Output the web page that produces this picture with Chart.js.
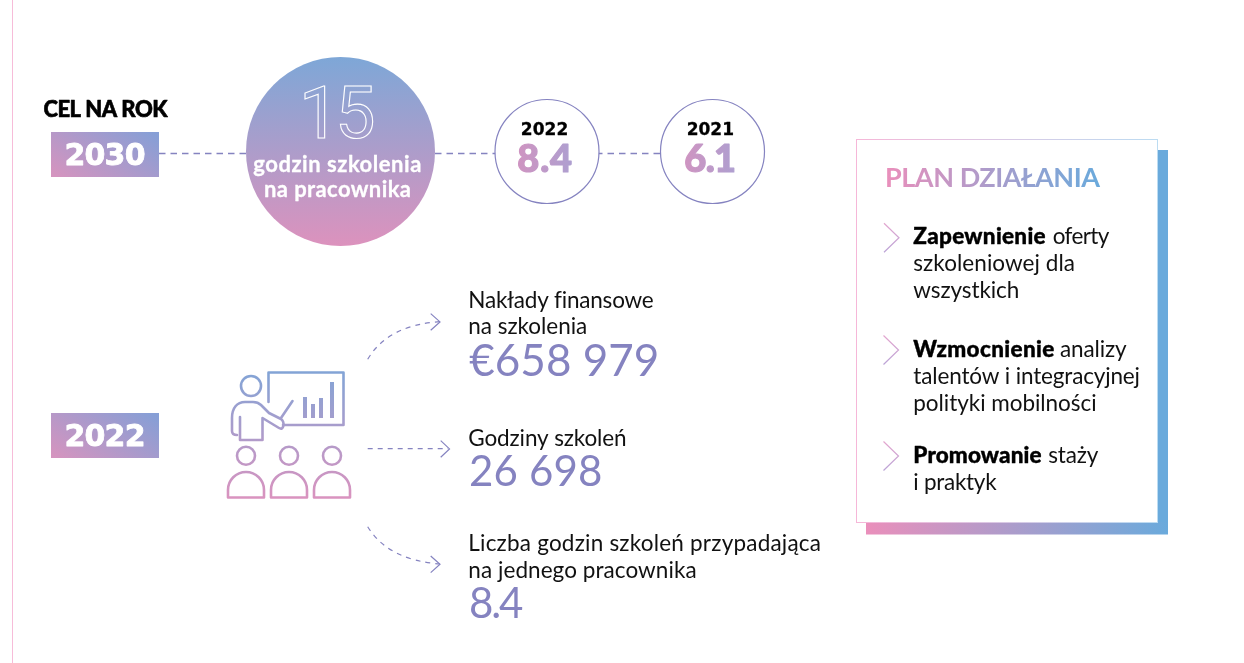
<!DOCTYPE html>
<html lang="pl">
<head>
<meta charset="utf-8">
<title>Szkolenia</title>
<script src="https://cdn.jsdelivr.net/npm/chart.js@4/dist/chart.umd.min.js"></script>
<style>
  html, body { margin: 0; padding: 0; background: #fff; }
  canvas { display: block; }
</style>
</head>
<body>
<canvas id="wykres" width="1244" height="663"></canvas>
<script>
// dane
const targetTitle = 'CEL NA ROK';
const timelineYears = ['2030', '2022', '2021'];
const timelineHours = [15, 8.4, 6.1];
const targetUnit = ['godzin szkolenia', 'na pracownika'];
const reportYear = '2022';
const metricLabels = [
  ['Nakłady finansowe', 'na szkolenia'],
  ['Godziny szkoleń'],
  ['Liczba godzin szkoleń przypadająca', 'na jednego pracownika']
];
const metricValues = [658979, 26698, 8.4];
const planTitle = 'PLAN DZIAŁANIA';
const planBold = ['Zapewnienie', 'Wzmocnienie', 'Promowanie'];
const planRest = [
  ['oferty', 'szkoleniowej dla', 'wszystkich'],
  ['analizy', 'talentów i integracyjnej', 'polityki mobilności'],
  ['staży', 'i praktyk']
];

// uklad
const circleX = [340.5, 547, 712.5];
const circleY = 151.5;
const circleR = [94.5, 52, 52];
const lineY = 153.5;
const violet = '#8583c0';
const bodyFont = '400 22.5px Lato';
const wideFont = 'DejaVu Sans';

function money(v) {
  return '€' + String(v).replace(/\B(?=(\d{3})+$)/g, ' ');
}
function spaced(v) {
  return String(v).replace(/\B(?=(\d{3})+$)/g, ' ');
}

const ctx = document.getElementById('wykres').getContext('2d');

function grad(x0, y0, x1, y1, c0, c1) {
  const g = ctx.createLinearGradient(x0, y0, x1, y1);
  g.addColorStop(0, c0);
  g.addColorStop(1, c1);
  return g;
}

// tekst dopasowany do szerokosci z oryginalu, heavy pogrubia obrysem
function label(str, x, y, w, font, color, heavy) {
  ctx.font = font;
  ctx.letterSpacing = '0px';
  ctx.textAlign = 'left';
  ctx.textBaseline = 'alphabetic';
  const m = ctx.measureText(str).width;
  if (w && str.length > 1) ctx.letterSpacing = ((w - m) / (str.length - 1)).toFixed(3) + 'px';
  ctx.fillStyle = color;
  ctx.fillText(str, x, y);
  if (heavy) {
    ctx.strokeStyle = color;
    ctx.lineWidth = heavy;
    ctx.lineJoin = 'round';
    ctx.setLineDash([]);
    ctx.strokeText(str, x, y);
  }
  ctx.letterSpacing = '0px';
}

function chevron(x0, y0, dx, dy, color, width) {
  ctx.beginPath();
  ctx.moveTo(x0, y0 - dy);
  ctx.lineTo(x0 + dx, y0);
  ctx.lineTo(x0, y0 + dy);
  ctx.strokeStyle = color;
  ctx.lineWidth = width;
  ctx.lineJoin = 'miter';
  ctx.setLineDash([]);
  ctx.stroke();
}

function yearBox(year, top, textX, textY) {
  ctx.fillStyle = grad(80, top + 60, 130, top - 15, '#d494bf', '#869fd6');
  ctx.fillRect(51, top, 108, 45);
  label(year, textX, textY, 81, '700 30px "' + wideFont + '"', '#fff', 0.8);
}

function drawIcon() {
  const g = grad(0, 371, 0, 499, '#82a4d6', '#da93bf');
  ctx.strokeStyle = g;
  ctx.fillStyle = g;
  ctx.lineWidth = 2.6;
  ctx.lineJoin = 'round';
  ctx.lineCap = 'round';
  ctx.setLineDash([]);

  // tablica
  ctx.beginPath();
  ctx.moveTo(268.5, 402);
  ctx.lineTo(268.5, 372.5);
  ctx.lineTo(343.5, 372.5);
  ctx.lineTo(343.5, 425);
  ctx.lineTo(283, 425);
  ctx.stroke();
  ctx.fillRect(303, 397, 4, 21);
  ctx.fillRect(311, 404, 4, 14);
  ctx.fillRect(319, 398, 4, 20);
  ctx.fillRect(330, 382, 4, 36);

  // prowadzacy
  ctx.beginPath();
  ctx.arc(251, 386, 10, 0, Math.PI * 2);
  ctx.stroke();
  ctx.beginPath();
  ctx.moveTo(240, 417);
  ctx.lineTo(240, 440);
  ctx.lineTo(262.5, 440);
  ctx.lineTo(262.5, 418);
  ctx.lineTo(279, 428);
  ctx.bezierCurveTo(284, 431, 285, 422, 281, 419);
  ctx.lineTo(269, 413);
  ctx.lineTo(261, 405);
  ctx.bezierCurveTo(258, 402, 256, 402, 253, 402);
  ctx.lineTo(245, 402);
  ctx.bezierCurveTo(237, 402, 232, 408, 232, 418);
  ctx.lineTo(232, 431);
  ctx.bezierCurveTo(232, 434, 234, 435, 237, 435);
  ctx.stroke();
  ctx.beginPath();
  ctx.moveTo(281, 418);
  ctx.lineTo(292.5, 401);
  ctx.stroke();

  // sluchacze
  [246, 289, 332].forEach(function (cx) {
    ctx.beginPath();
    ctx.arc(cx, 455.7, 9, 0, Math.PI * 2);
    ctx.stroke();
    ctx.beginPath();
    ctx.moveTo(cx - 18, 497.5);
    ctx.lineTo(cx - 18, 490);
    ctx.arc(cx, 490, 18, Math.PI, 0);
    ctx.lineTo(cx + 18, 497.5);
    ctx.closePath();
    ctx.stroke();
  });
  ctx.lineCap = 'butt';
}

function drawArrows() {
  ctx.strokeStyle = violet;
  ctx.lineWidth = 1.2;
  ctx.lineCap = 'butt';
  ctx.setLineDash([5, 5]);
  ctx.beginPath();
  ctx.moveTo(367.7, 359.3);
  ctx.quadraticCurveTo(388, 325, 440, 321.7);
  ctx.stroke();
  ctx.beginPath();
  ctx.moveTo(367.7, 448.7);
  ctx.lineTo(448, 448.7);
  ctx.stroke();
  ctx.beginPath();
  ctx.moveTo(367.7, 526.7);
  ctx.quadraticCurveTo(388, 560, 440, 564);
  ctx.stroke();
  chevron(430.7, 321.9, 9.3, 8.3, violet, 1.2);
  chevron(440.7, 448.9, 8.8, 8.3, violet, 1.2);
  chevron(430.7, 564.3, 9.3, 8.3, violet, 1.2);
}

function drawPanel() {
  // cien
  ctx.fillStyle = '#6aaadc';
  ctx.fillRect(1158, 150, 10, 384);
  ctx.fillStyle = grad(866, 0, 1168, 0, '#ea8fbb', '#6aaadc');
  ctx.fillRect(866, 522, 302, 12.5);
  // ramka
  ctx.fillStyle = '#fff';
  ctx.fillRect(856, 139, 302, 383);
  ctx.strokeStyle = grad(856, 0, 1158, 0, '#f6b7d8', '#bcdcf2');
  ctx.lineWidth = 1;
  ctx.setLineDash([]);
  ctx.strokeRect(856.5, 139.5, 301, 383);
}

const infoPlugin = {
  id: 'info',
  beforeDatasetsDraw() {
    ctx.save();
    ctx.fillStyle = '#f7bcd9';
    ctx.fillRect(12, 0, 1, 663);
    yearBox(timelineYears[0], 132, 64.5, 165);
    yearBox(reportYear, 413, 64.5, 446);
    drawIcon();
    drawArrows();
    drawPanel();
    ctx.restore();
  },
  afterDatasetsDraw() {
    ctx.save();
    label(targetTitle, 43.5, 117.3, 124, '900 22px Lato', '#000', 0.6);

    // liczba 15 jako kontur, kazda cyfra osobno
    const digits = String(timelineHours[0]);
    ctx.font = '400 72px Roboto';
    ctx.strokeStyle = '#fff';
    ctx.lineWidth = 1.1;
    ctx.setLineDash([]);
    ctx.lineJoin = 'miter';
    ctx.strokeText(digits[0], 299, 138);
    ctx.strokeText(digits[1], 335, 138);

    label(targetUnit[0], 253.3, 171.7, 168, '700 22px Lato', '#fff', 0.3);
    label(targetUnit[1], 264, 197.3, 147, '700 22px Lato', '#fff', 0.3);

    label(timelineYears[1], 520.7, 135, 47.7, '700 17px "' + wideFont + '"', '#000', 0.3);
    label(timelineYears[2], 686.7, 135, 47.3, '700 17px "' + wideFont + '"', '#000', 0.3);
    const numFill = function (x0, x1) { return grad(x0, 0, x1, 0, '#cf94c1', '#ae9fd0'); };
    label(timelineHours[1].toFixed(1), 517.3, 171.7, 54.7, '900 38px Lato', numFill(517, 572), 1.2);
    label(timelineHours[2].toFixed(1), 684.3, 171.7, 51.7, '900 38px Lato', numFill(684, 736), 1.2);

    // metryki 2022
    label(metricLabels[0][0], 468.3, 307.5, 185, bodyFont, '#111');
    label(metricLabels[0][1], 468.3, 334, 119, bodyFont, '#111');
    label(money(metricValues[0]), 469.3, 376, 190, '400 44px Lato', violet);
    label(metricLabels[1][0], 468.3, 446, 158.3, bodyFont, '#111');
    label(spaced(metricValues[1]), 469, 486, 133.3, '400 42px Lato', violet);
    label(metricLabels[2][0], 468.3, 551, 352.7, bodyFont, '#111');
    label(metricLabels[2][1], 468.3, 577.5, 228.3, bodyFont, '#111');
    label(metricValues[2].toFixed(1), 469, 618, 54.3, '400 42px Lato', violet);

    // plan dzialania
    label(planTitle, 885, 187.3, 215, '700 27px Lato', grad(885, 0, 1100, 0, '#ea8fbb', '#6aaadc'));
    const left = 913.3;
    const boldFont = '900 22.5px Lato';
    label(planBold[0], left, 244.3, 132.3, boldFont, '#000', 0.4);
    label(planRest[0][0], 1052.7, 244.3, 56.6, bodyFont, '#111');
    label(planRest[0][1], left, 271, 161.7, bodyFont, '#111');
    label(planRest[0][2], left, 297.5, 106, bodyFont, '#111');
    label(planBold[1], left, 356.7, 141, boldFont, '#000', 0.4);
    label(planRest[1][0], 1060, 356.7, 66.7, bodyFont, '#111');
    label(planRest[1][1], left, 384, 226.7, bodyFont, '#111');
    label(planRest[1][2], left, 410.7, 183.3, bodyFont, '#111');
    label(planBold[2], left, 463, 128.3, boldFont, '#000', 0.4);
    label(planRest[2][0], 1048.3, 463, 50, bodyFont, '#111');
    label(planRest[2][1], left, 489.7, 83.3, bodyFont, '#111');

    chevron(884, 237.8, 15, 14.5, grad(0, 223, 0, 252, '#e3a6cf', '#bba3d6'), 1.2);
    chevron(883.5, 350, 15, 14.5, grad(0, 336, 0, 364, '#e3a6cf', '#bba3d6'), 1.2);
    chevron(883.5, 456, 15, 14.5, grad(0, 442, 0, 470, '#e3a6cf', '#bba3d6'), 1.2);
    ctx.restore();
  }
};

new Chart(ctx, {
  type: 'scatter',
  data: {
    datasets: [{
      label: 'Godziny na pracownika',
      data: timelineHours.map(function (h, i) { return { x: circleX[i], y: circleY, hours: h }; }),
      pointRadius: circleR,
      pointHoverRadius: circleR,
      pointBorderWidth: [0, 1.2, 1.2],
      pointBorderColor: violet,
      pointBackgroundColor: function (c) {
        return c.dataIndex === 0 ? grad(0, 57, 0, 246, '#7ea7d7', '#dc92bd') : '#fff';
      },
      order: 0,
      clip: false
    }, {
      label: 'Os czasu',
      data: [{ x: 159, y: lineY }, { x: 662, y: lineY }],
      showLine: true,
      borderColor: violet,
      borderWidth: 1.3,
      borderDash: [6.5, 5],
      pointRadius: 0,
      order: 1
    }]
  },
  options: {
    responsive: false,
    animation: false,
    events: [],
    layout: { padding: 0, autoPadding: false },
    plugins: { legend: { display: false }, tooltip: { enabled: false } },
    scales: {
      x: { type: 'linear', min: 0, max: 1244, display: false },
      y: { type: 'linear', min: 0, max: 663, reverse: true, display: false }
    }
  },
  plugins: [infoPlugin]
});
</script>
</body>
</html>
